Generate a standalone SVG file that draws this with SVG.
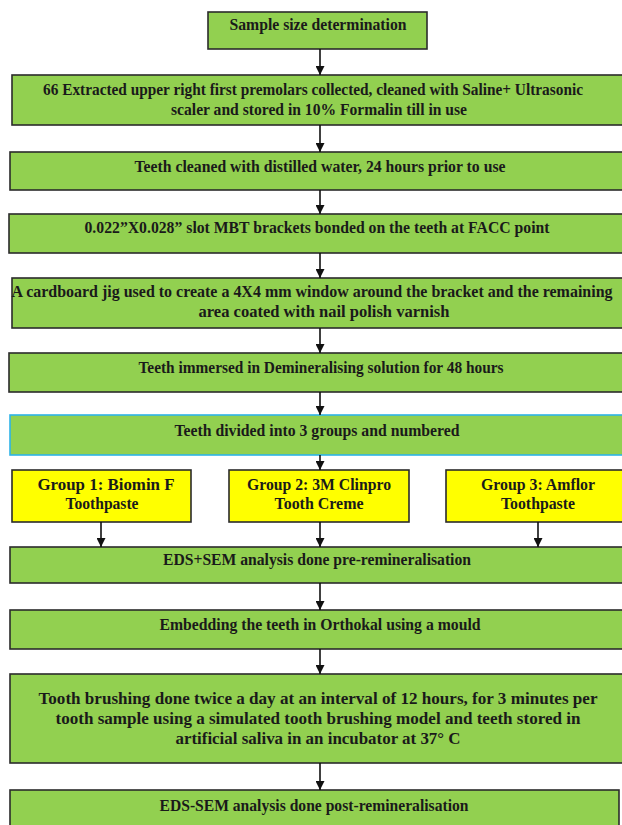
<svg xmlns="http://www.w3.org/2000/svg" width="622" height="825" viewBox="0 0 622 825">
<defs>
<style>
.g{fill:#92D050;stroke:#2b2b2b;stroke-width:1.6}
.b{fill:#92D050;stroke:#2EB4E8;stroke-width:1.6}
.y{fill:#FFFF00;stroke:#2b2b2b;stroke-width:1.6}
text{font-family:"Liberation Serif","Times New Roman",serif;font-weight:bold;font-size:16px;fill:#1a1a1a;text-anchor:middle}
.c line{stroke:#111;stroke-width:1.6;marker-end:url(#ah)}
</style>
<marker id="ah" markerUnits="userSpaceOnUse" markerWidth="9" markerHeight="9" refX="9" refY="4.5" orient="auto">
<path d="M0,0 L9,4.5 L0,9 z" fill="#111"/>
</marker>
</defs>
<rect width="622" height="825" fill="#ffffff"/>
<g id="n1"><rect class="g" x="208" y="12" width="219" height="37"/><text x="318" y="30" textLength="177" lengthAdjust="spacingAndGlyphs">Sample size determination</text></g>
<g id="n2"><rect class="g" x="12" y="75" width="616" height="50"/><text x="313" y="95" textLength="540" lengthAdjust="spacingAndGlyphs">66 Extracted upper right first premolars collected, cleaned with Saline+ Ultrasonic</text><text x="319" y="115" textLength="296" lengthAdjust="spacingAndGlyphs">scaler and stored in 10% Formalin till in use</text></g>
<g id="n3"><rect class="g" x="10" y="152" width="618" height="38"/><text x="320" y="172" textLength="371" lengthAdjust="spacingAndGlyphs">Teeth cleaned with distilled water, 24 hours prior to use</text></g>
<g id="n4"><rect class="g" x="9" y="214" width="619" height="39"/><text x="317" y="233" textLength="465" lengthAdjust="spacingAndGlyphs">0.022”X0.028” slot MBT brackets bonded on the teeth at FACC point</text></g>
<g id="n5"><rect class="g" x="12" y="278" width="616" height="50"/><text x="312" y="297" textLength="601" lengthAdjust="spacingAndGlyphs">A cardboard jig used to create a 4X4 mm window around the bracket and the remaining</text><text x="324" y="317" textLength="251" lengthAdjust="spacingAndGlyphs">area coated with nail polish varnish</text></g>
<g id="n6"><rect class="g" x="9" y="353" width="619" height="39"/><text x="321" y="373" textLength="365" lengthAdjust="spacingAndGlyphs">Teeth immersed in Demineralising solution for 48 hours</text></g>
<g id="n7"><rect class="b" x="10" y="415" width="618" height="40"/><text x="317" y="436" textLength="285" lengthAdjust="spacingAndGlyphs">Teeth divided into 3 groups and numbered</text></g>
<g id="g1"><rect class="y" x="12" y="470" width="179" height="52"/><text x="106" y="490" textLength="137" lengthAdjust="spacingAndGlyphs">Group 1: Biomin F</text><text x="102" y="509" textLength="73" lengthAdjust="spacingAndGlyphs">Toothpaste</text></g>
<g id="g2"><rect class="y" x="229" y="470" width="180" height="52"/><text x="319" y="490" textLength="144" lengthAdjust="spacingAndGlyphs">Group 2: 3M Clinpro</text><text x="319" y="509" textLength="89" lengthAdjust="spacingAndGlyphs">Tooth Creme</text></g>
<g id="g3"><rect class="y" x="446" y="470" width="182" height="52"/><text x="538" y="490" textLength="114" lengthAdjust="spacingAndGlyphs">Group 3: Amflor</text><text x="538" y="509" textLength="74" lengthAdjust="spacingAndGlyphs">Toothpaste</text></g>
<g id="n8"><rect class="g" x="10" y="547" width="618" height="36"/><text x="317" y="565" textLength="308" lengthAdjust="spacingAndGlyphs">EDS+SEM analysis done pre-remineralisation</text></g>
<g id="n9"><rect class="g" x="10" y="610" width="618" height="39"/><text x="320" y="630" textLength="321" lengthAdjust="spacingAndGlyphs">Embedding the teeth in Orthokal using a mould</text></g>
<g id="n10"><rect class="g" x="10" y="674" width="618" height="89"/><text x="318" y="704" textLength="559" lengthAdjust="spacingAndGlyphs">Tooth brushing done twice a day at an interval of 12 hours, for 3 minutes per</text><text x="318" y="724" textLength="525" lengthAdjust="spacingAndGlyphs">tooth sample using a simulated tooth brushing model and teeth stored in</text><text x="318" y="744" textLength="285" lengthAdjust="spacingAndGlyphs">artificial saliva in an incubator at 37° C</text></g>
<g id="n11"><rect class="g" x="10" y="790" width="609" height="42"/><text x="314" y="811" textLength="309" lengthAdjust="spacingAndGlyphs">EDS-SEM analysis done post-remineralisation</text></g>
<g id="connectors" class="c">
<line x1="320" y1="49" x2="320" y2="75"/>
<line x1="320" y1="125" x2="320" y2="152"/>
<line x1="320" y1="190" x2="320" y2="214"/>
<line x1="320" y1="253" x2="320" y2="278"/>
<line x1="320" y1="328" x2="320" y2="353"/>
<line x1="320" y1="392" x2="320" y2="415"/>
<line x1="320" y1="455" x2="320" y2="470"/>
<line x1="101" y1="522" x2="101" y2="547"/>
<line x1="320" y1="522" x2="320" y2="547"/>
<line x1="538" y1="522" x2="538" y2="547"/>
<line x1="320" y1="583" x2="320" y2="610"/>
<line x1="320" y1="649" x2="320" y2="674"/>
<line x1="320" y1="763" x2="320" y2="790"/>
</g>
</svg>
